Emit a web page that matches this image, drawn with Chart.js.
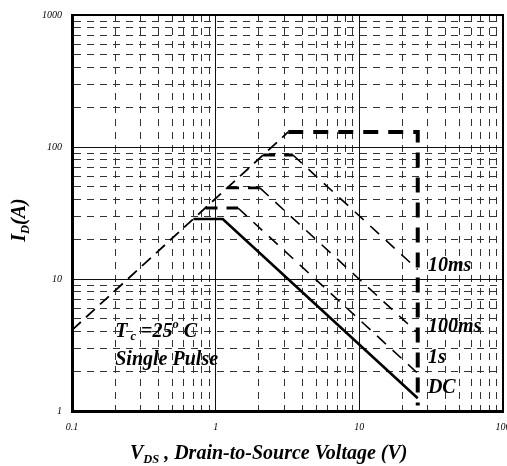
<!DOCTYPE html>
<html>
<head>
<meta charset="utf-8">
<script src="https://cdn.jsdelivr.net/npm/chart.js@4.4.1/dist/chart.umd.min.js"></script>
<style>
  html, body { margin: 0; padding: 0; background: #fff; overflow: hidden; }
  #wrap { width: 507px; height: 466px; }
</style>
</head>
<body>
<div id="wrap"><canvas id="soa" width="507" height="466"></canvas></div>
<script>
// tick values (log grid, labels only on decades)
const xTicks = [0.1, 0.2, 0.3, 0.4, 0.5, 0.6, 0.7, 0.8, 0.9,
    1, 2, 3, 4, 5, 6, 7, 8, 9,
    10, 20, 30, 40, 50, 60, 70, 80, 90, 100];
const yTicks = [1, 2, 3, 4, 5, 6, 7, 8, 9,
    10, 20, 30, 40, 50, 60, 70, 80, 90,
    100, 200, 300, 400, 500, 600, 700, 800, 900, 1000];

// series: VDS (V) / ID (A)
const vRds = [0.1, 3.2];
const iRds = [4.1, 130];
const vLimit = [3.2, 25.5, 25.5];
const iLimit = [130, 130, 1.1];
const v10ms = [2.14, 3.45, 25.5];
const i10ms = [87, 87, 11.8];
const v100ms = [1.2, 2.03, 25.5];
const i100ms = [49, 49, 3.9];
const v1s = [0.85, 1.43, 25.5];
const i1s = [34.5, 34.5, 1.93];
const vDC = [0.70, 1.12, 25.5];
const iDC = [28.5, 28.5, 1.25];

const curveLabels = ['10ms', '100ms', '1s', 'DC'];
const curveLabelV = [30, 30, 30, 30];
const curveLabelI = [12.5, 4.33, 2.52, 1.49];

function pts(xs, ys) {
    return xs.map((x, i) => ({ x: x, y: ys[i] }));
}

function isDecade(v) {
    const l = Math.log10(v);
    return Math.abs(l - Math.round(l)) < 1e-9;
}

const SERIF = "'Liberation Serif', 'Times New Roman', serif";

// thin on the slopes, heavier on the flat parts
const pulseWidth = {
    borderWidth: ctx => ctx.p0.parsed.y === ctx.p1.parsed.y ? 2.8 : 1.6
};

function pulseSet(label, xs, ys) {
    return {
        label: label,
        data: pts(xs, ys),
        borderColor: '#000',
        borderWidth: 1.6,
        borderDash: [12, 9],
        pointRadius: 0,
        fill: false,
        tension: 0,
        segment: pulseWidth
    };
}

// draws text runs with sub/superscripts
function drawRuns(ctx, runs, x, y, size) {
    let cx = x;
    runs.forEach(r => {
        const t = r[0], kind = r[1];
        let s = size, dy = 0;
        if (kind === 'sub') { s = size * 0.62; dy = size * 0.22; }
        if (kind === 'sup') { s = size * 0.62; dy = -size * 0.38; }
        ctx.font = 'italic bold ' + s + 'px ' + SERIF;
        ctx.fillText(t, cx, y + dy);
        cx += ctx.measureText(t).width;
    });
    return cx - x;
}

function runsWidth(ctx, runs, size) {
    let w = 0;
    runs.forEach(r => {
        const s = r[1] ? size * 0.62 : size;
        ctx.font = 'italic bold ' + s + 'px ' + SERIF;
        w += ctx.measureText(r[0]).width;
    });
    return w;
}

const textPlugin = {
    id: 'soaText',
    afterDatasetsDraw(chart) {
        const ctx = chart.ctx;
        const xs = chart.scales.x, ys = chart.scales.y;
        ctx.save();
        ctx.fillStyle = '#000';
        ctx.textBaseline = 'middle';
        ctx.textAlign = 'left';

        // frame top / right
        ctx.strokeStyle = '#000';
        ctx.lineWidth = 2;
        const a = chart.chartArea;
        ctx.beginPath();
        ctx.moveTo(a.left, a.top);
        ctx.lineTo(a.right, a.top);
        ctx.lineTo(a.right, a.bottom);
        ctx.stroke();

        ctx.font = 'italic bold 20px ' + SERIF;
        curveLabels.forEach((t, i) => {
            ctx.fillText(t, xs.getPixelForValue(curveLabelV[i]), ys.getPixelForValue(curveLabelI[i]));
        });

        const tx = xs.getPixelForValue(0.2);
        drawRuns(ctx, [['T'], [' c', 'sub'], [' =25'], ['o', 'sup'], [' C']], tx, ys.getPixelForValue(3.97), 20);
        drawRuns(ctx, [['Single Pulse']], tx, ys.getPixelForValue(2.43), 20);

        // axis titles
        ctx.textBaseline = 'alphabetic';
        drawRuns(ctx, [['V'], ['DS', 'sub'], [' , Drain-to-Source Voltage (V)']], 130, 459, 20);

        const yRuns = [['I'], ['D', 'sub'], ['(A)']];
        const w = runsWidth(ctx, yRuns, 20);
        ctx.translate(25, 220 + w / 2);
        ctx.rotate(-Math.PI / 2);
        drawRuns(ctx, yRuns, 0, 0, 20);
        ctx.restore();
    }
};

const gridColor = c => isDecade(c.tick.value) ? '#111' : '#333';
const gridDash = c => (c.tick && !isDecade(c.tick.value)) ? [7, 6] : [];

new Chart(document.getElementById('soa'), {
    type: 'line',
    data: {
        datasets: [
            {
                label: 'RDS(on) limit',
                data: pts(vRds, iRds),
                borderColor: '#000',
                borderWidth: 1.8,
                borderDash: [12, 7],
                pointRadius: 0,
                fill: false
            },
            {
                label: 'limit',
                data: pts(vLimit, iLimit),
                borderColor: '#000',
                borderWidth: 4,
                borderDash: [15, 10],
                pointRadius: 0,
                fill: false
            },
            pulseSet('10ms', v10ms, i10ms),
            pulseSet('100ms', v100ms, i100ms),
            pulseSet('1s', v1s, i1s),
            {
                label: 'DC',
                data: pts(vDC, iDC),
                borderColor: '#000',
                borderWidth: 2.6,
                pointRadius: 0,
                fill: false
            }
        ]
    },
    options: {
        responsive: false,
        animation: false,
        devicePixelRatio: 1,
        layout: { padding: { left: 0, right: 4, top: 15, bottom: 0 } },
        plugins: {
            legend: { display: false },
            title: { display: false },
            tooltip: { enabled: false }
        },
        scales: {
            x: {
                type: 'logarithmic',
                min: 0.1,
                max: 100,
                afterBuildTicks: s => { s.ticks = xTicks.map(v => ({ value: v })); },
                afterFit: s => { s.height = 55; s.paddingLeft = 0; s.paddingRight = 0; },
                ticks: {
                    autoSkip: false,
                    maxRotation: 0,
                    padding: 10,
                    color: '#000',
                    font: { family: SERIF, size: 10, style: 'italic' },
                    callback: v => isDecade(v) ? String(v) : ''
                },
                grid: { color: gridColor, lineWidth: 1, drawTicks: false },
                border: { display: true, color: '#000', width: 3, dash: gridDash }
            },
            y: {
                type: 'logarithmic',
                min: 1,
                max: 1000,
                afterBuildTicks: s => { s.ticks = yTicks.map(v => ({ value: v })); },
                afterFit: s => { s.width = 72; s.paddingTop = 0; s.paddingBottom = 0; },
                ticks: {
                    autoSkip: false,
                    padding: 10,
                    color: '#000',
                    font: { family: SERIF, size: 10, style: 'italic' },
                    callback: v => isDecade(v) ? String(v) : ''
                },
                grid: { color: gridColor, lineWidth: 1, drawTicks: false },
                border: { display: true, color: '#000', width: 3, dash: gridDash }
            }
        }
    },
    plugins: [textPlugin]
});
</script>
</body>
</html>
